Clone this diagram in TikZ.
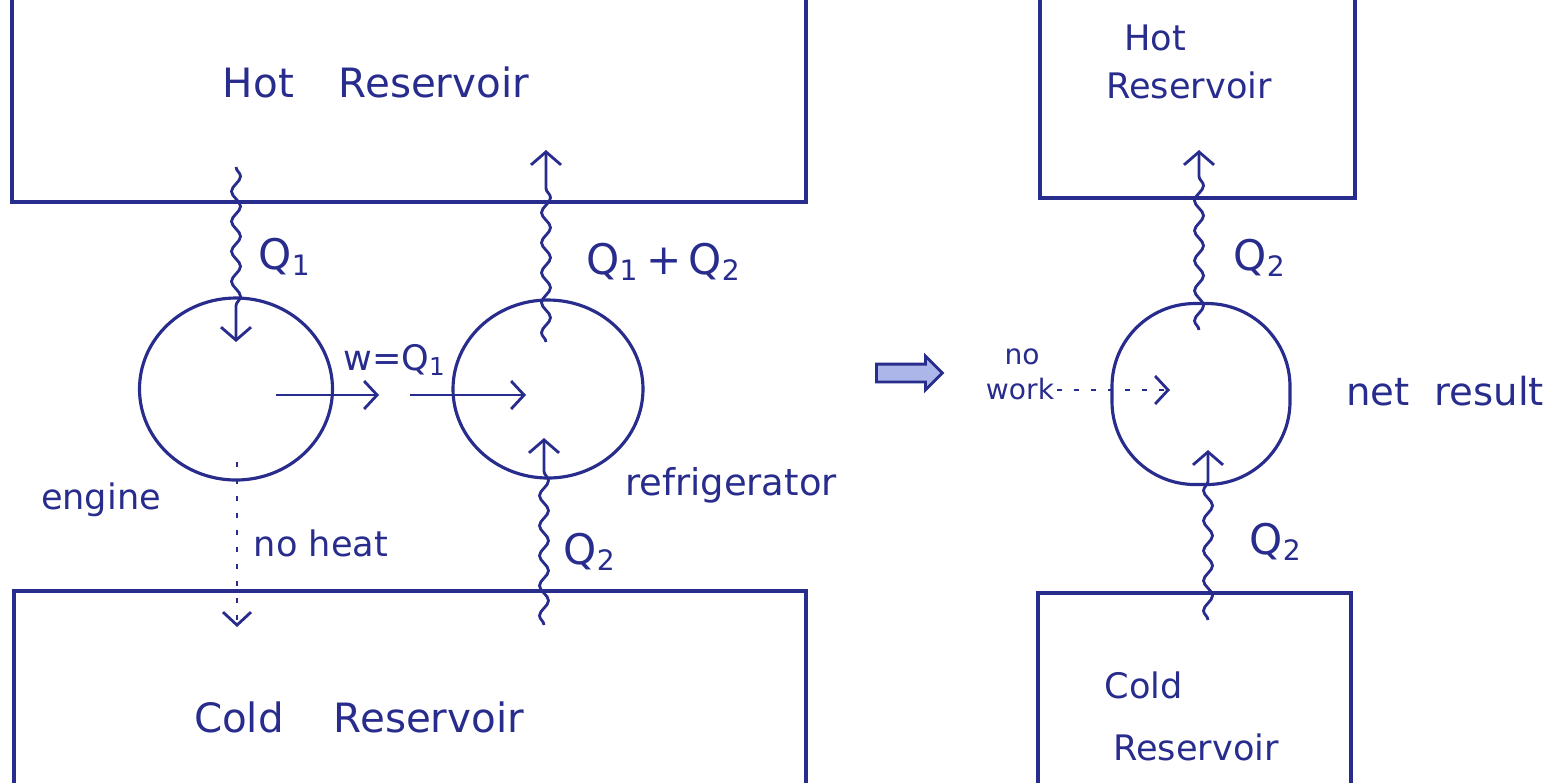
\documentclass[tikz,border=0pt]{standalone}
\usepackage{fontspec}
\setmainfont{DejaVu Sans}
\usepackage{tikz}
\usetikzlibrary{shapes.geometric, shapes.arrows, arrows.meta, calc, decorations.pathmorphing}
\definecolor{ink}{RGB}{40,44,140}
\definecolor{wash}{RGB}{172,182,232}
\tikzstyle{cycle}     = [ellipse, draw=ink, line width=0.9pt, inner sep=0pt]
\tikzstyle{netcycle}  = [rectangle, rounded corners=8.3mm, draw=ink, line width=0.9pt, inner sep=0pt]
\tikzstyle{wall}      = [draw=ink, line width=0.9pt]
\tikzstyle{note}      = [text=ink, inner sep=0pt, font=\fontsize{10}{12}\selectfont]
\tikzstyle{qnote}     = [note, font=\fontsize{12}{14}\selectfont]
\tikzstyle{heat}      = [ink, line width=0.8pt, decorate, decoration={snake, amplitude=0.45mm, segment length=3mm, post length=2.5mm}, -{Straight Barb[length=1.3mm, width=3mm]}]
\tikzstyle{arrow}     = [ink, line width=0.8pt, -{Straight Barb[length=1.3mm, width=2.8mm]}]
\tikzstyle{noflow}    = [arrow, dash pattern=on 0.5mm off 1.2mm]

\begin{document}
\begin{tikzpicture}[x=0.1mm, y=-0.1mm] % 1 unit = 1 pixel of the sketch
    \useasboundingbox (0,0) rectangle (1560,783);

    % 1. reservoirs of the engine + refrigerator pair (open at the page edge)
    \draw [wall] (12,0) -- (12,202) -- (806,202) -- (806,0);
    \draw [wall] (14,783) -- (14,591) -- (806,591) -- (806,783);
    \node (hot)  [note, font=\fontsize{11.5}{13}\selectfont] at (376,82)  {Hot\hspace{4.5mm}Reservoir};
    \node (cold) [note, font=\fontsize{11.5}{13}\selectfont] at (359,717) {Cold\hspace{5mm}Reservoir};

    % 2. engine and refrigerator
    \node (eng)    [cycle, minimum width=19.3mm, minimum height=18.2mm] at (236,389) {};
    \node (fridge) [cycle, minimum width=19.0mm, minimum height=17.8mm] at (548,389) {};
    \node (englbl)    [note] at (101,500) {engine};
    \node (fridgelbl) [note, font=\fontsize{10.5}{12}\selectfont] at (731,485) {refrigerator};

    % 3. free ends of the connectors
    \coordinate (q1in)   at (236,167);
    \coordinate (q1tip)  at (236,342);
    \coordinate (q12in)  at (546,342);
    \coordinate (q12tip) at (546,150);
    \coordinate (q2in)   at (544,625);
    \coordinate (q2tip)  at (544,438);
    \coordinate (w1a)    at (276,395);
    \coordinate (w1b)    at (379,395);
    \coordinate (w2a)    at (410,395);
    \coordinate (w2b)    at (526,395);
    \coordinate (nh1)    at (237,462);
    \coordinate (nh2)    at (237,627);

    % heat and work flows
    \draw [heat] (q1in) -- (q1tip);                 % hot -> engine
    \draw [heat] (q12in) -- (q12tip);               % refrigerator -> hot
    \draw [heat] (q2in) -- (q2tip);                 % cold -> refrigerator
    \draw [arrow] (w1a) -- (w1b);                   % work out of engine
    \draw [arrow] (w2a) -- (w2b);                   % work into refrigerator
    \draw [noflow] (nh1) -- (nh2);                  % engine -> cold (nothing)

    \node (q1)   [qnote] at (285,257) {Q\textsubscript{1}};
    \node (q12)  [qnote] at (664,262) {Q\textsubscript{1}\,+\,Q\textsubscript{2}};
    \node (wq)   [note]  at (395,360) {w=Q\textsubscript{1}};
    \node (q2)   [qnote] at (590,552) {Q\textsubscript{2}};
    \node (noheat) [note] at (321,543) {no heat};

    % 4. the "equals" arrow
    \node (implies) [single arrow, draw=ink, fill=wash, line width=0.8pt, inner sep=0.75mm,
                     single arrow head extend=0.8mm, minimum height=6.6mm] at (905,373) {};

    % 5. net result
    \draw [wall] (1040,0) -- (1040,198) -- (1355,198) -- (1355,0);
    \draw [wall] (1038,783) -- (1038,593) -- (1351,593) -- (1351,783);
    \node (hot2)   [note] at (1155,38)  {Hot};
    \node (hotr2)  [note] at (1189,85)  {Reservoir};
    \node (cold2)  [note] at (1144,685) {Cold};
    \node (coldr2) [note] at (1196,747) {Reservoir};

    \node (net) [netcycle, minimum width=17.8mm, minimum height=18.1mm] at (1201,394) {};
    \node (netlbl) [note, font=\fontsize{11}{13}\selectfont] at (1445,391) {net\hspace{2.5mm}result};

    \coordinate (r1in)  at (1199,330);
    \coordinate (r1tip) at (1199,150);
    \coordinate (r2in)  at (1208,620);
    \coordinate (r2tip) at (1208,450);
    \coordinate (nw1)   at (1057,390);
    \coordinate (nw2)   at (1170,390);

    \draw [heat] (r1in) -- (r1tip);                 % net -> hot
    \draw [heat] (r2in) -- (r2tip);                 % cold -> net
    \draw [noflow] (nw1) -- (nw2);                  % no work in

    \node (q2a) [qnote] at (1260,258) {Q\textsubscript{2}};
    \node (q2b) [qnote] at (1276,542) {Q\textsubscript{2}};
    \node (no)   [note, font=\fontsize{8}{9}\selectfont] at (1022,357) {no};
    \node (work) [note, font=\fontsize{8}{9}\selectfont] at (1020,389) {work};
\end{tikzpicture}
\end{document}
